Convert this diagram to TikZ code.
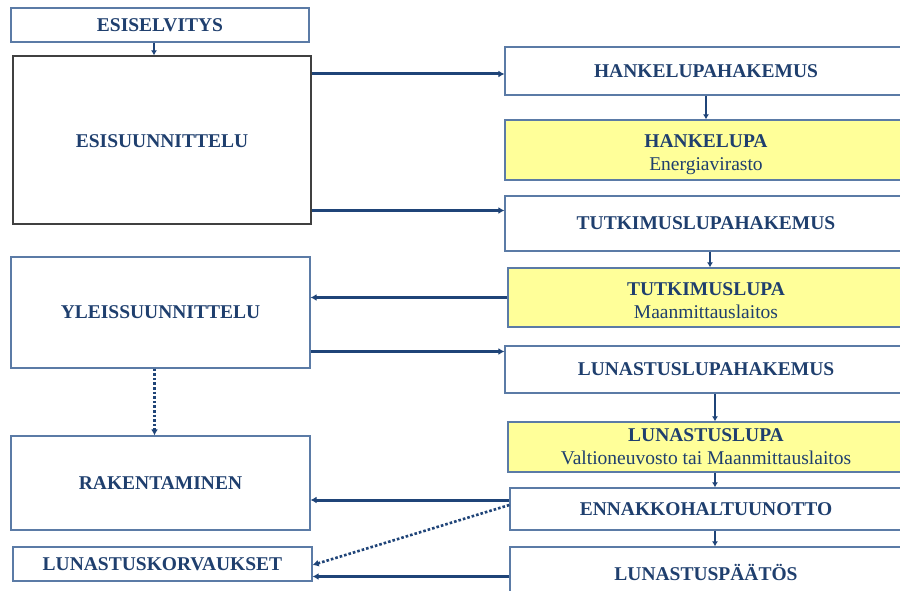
\documentclass[tikz,border=0pt]{standalone}
\usepackage{fontspec}
\setmainfont{Liberation Serif}
\usetikzlibrary{arrows.meta,calc}
\definecolor{txt}{HTML}{1F3F6E}
\definecolor{arrc}{HTML}{1F4478}
\definecolor{bord}{HTML}{5B7BA6}
\definecolor{ylw}{HTML}{FFFF99}
\newcommand{\subtxt}{\fontsize{19.5}{23}\selectfont\mdseries}
\tikzset{
  box/.style={draw=bord, line width=1.3pt, fill=white, inner sep=0pt, text=txt,
    align=center, font=\fontsize{19.5}{23}\selectfont\bfseries},
  ybox/.style={box, fill=ylw},
  arr/.style={draw=arrc, line width=3pt, -{Latex[length=6pt,width=7pt]}},
  varr/.style={draw=arrc, line width=2.2pt, -{Latex[length=5pt,width=6pt]}},
  darr/.style={draw=arrc, line width=2.6pt, dotted, -{Latex[length=6pt,width=7pt]}},
}
\begin{document}
\begin{tikzpicture}[x=1pt,y=-1pt]
\useasboundingbox (0,0) rectangle (900,591);
\clip (0,0) rectangle (900,591);
\fill[white] (0,0) rectangle (900,591);
% left column
\node[box, minimum width=298pt, minimum height=34pt] (esel) at (160,25) {ESISELVITYS};
\node[box, draw=black!75, minimum width=298pt, minimum height=168pt] (esis) at (162,140) {\rule{0pt}{16pt}ESISUUNNITTELU};
\node[box, minimum width=299pt, minimum height=111pt] (yleis) at (160.5,312.5) {YLEISSUUNNITTELU};
\node[box, minimum width=299pt, minimum height=94pt] (rak) at (160.5,483) {RAKENTAMINEN};
\node[box, minimum width=299pt, minimum height=34pt] (korv) at (162.5,564) {LUNASTUSKORVAUKSET};
% right column
\node[box, minimum width=402pt, minimum height=48pt] (hakem) at (706,71) {HANKELUPAHAKEMUS};
\node[ybox, minimum width=402pt, minimum height=60pt] (hlupa) at (706,150) {\rule{0pt}{23pt}HANKELUPA\\{\subtxt Energiavirasto}};
\node[box, minimum width=402pt, minimum height=55pt] (tutkh) at (706,223.5) {TUTKIMUSLUPAHAKEMUS};
\node[ybox, minimum width=396pt, minimum height=59pt] (tutkl) at (706,297.5) {\rule{0pt}{19pt}TUTKIMUSLUPA\\{\subtxt Maanmittauslaitos}};
\node[box, minimum width=402pt, minimum height=47pt] (lunh) at (706,369.5) {LUNASTUSLUPAHAKEMUS};
\node[ybox, minimum width=396pt, minimum height=50pt] (lunl) at (706,447) {LUNASTUSLUPA\\{\subtxt Valtioneuvosto tai Maanmittauslaitos}};
\node[box, minimum width=392pt, minimum height=42pt] (enn) at (706,509) {ENNAKKOHALTUUNOTTO};
\node[box, minimum width=392pt, minimum height=51pt] (lpaat) at (706,572.5) {LUNASTUSPÄÄTÖS};
% connectors
\coordinate (c1) at ([xshift=-6pt]esel.south);
\draw[varr] (c1) -- (c1 |- esis.north);
\coordinate (h1) at ([yshift=-3pt]hakem.west);
\draw[arr] (esis.east |- h1) -- (h1);
\coordinate (t1) at ([yshift=13pt]tutkh.west);
\draw[arr] (esis.east |- t1) -- (t1);
\draw[varr] (hakem.south) -- (hlupa.north);
\coordinate (v2) at ([xshift=4pt]tutkh.south);
\draw[varr] (v2) -- (v2 |- tutkl.north);
\draw[arr] (tutkl.west) -- (yleis.east |- tutkl.west);
\coordinate (l1) at ([yshift=18pt]lunh.west);
\draw[arr] (yleis.east |- l1) -- (l1);
\coordinate (v3) at ([xshift=9pt]lunh.south);
\draw[varr] (v3) -- (v3 |- lunl.north);
\coordinate (v4) at ([xshift=9pt]lunl.south);
\draw[varr] (v4) -- (v4 |- enn.north);
\coordinate (v5) at ([xshift=9pt]enn.south);
\draw[varr] (v5) -- (v5 |- lpaat.north);
\coordinate (d1) at ([xshift=-6pt]yleis.south);
\draw[darr] (d1) -- (d1 |- rak.north);
\coordinate (e1) at ([yshift=9pt]enn.west);
\draw[arr] (e1) -- (rak.east |- e1);
\coordinate (e2) at ([yshift=4pt]enn.west);
\draw[darr] (e2) -- ([yshift=-1pt]korv.east);
\coordinate (p1) at ([yshift=-4pt]lpaat.west);
\draw[arr] (p1) -- (korv.east |- p1);
\end{tikzpicture}
\end{document}
